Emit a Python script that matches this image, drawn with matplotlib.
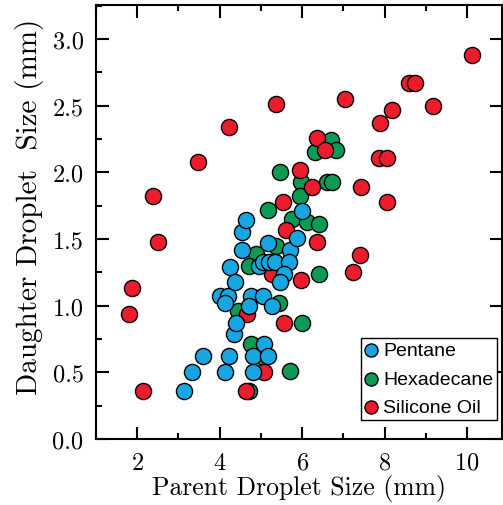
import matplotlib
matplotlib.use("Agg")
import matplotlib.pyplot as plt
from matplotlib.ticker import MultipleLocator, FormatStrFormatter

plt.rcParams['font.family'] = 'serif'
plt.rcParams['font.serif'] = ['cmr10']
plt.rcParams['axes.formatter.use_mathtext'] = True

pentane_x = [3.13, 3.33, 3.59, 4.12, 4.22, 4.80, 4.82, 5.08, 5.18, 4.34, 4.40,
             4.00, 4.19, 4.14, 4.75, 4.72, 5.04, 5.28, 4.24, 4.36, 4.55, 4.55,
             4.65, 5.16, 5.71, 5.88, 4.96, 5.04, 5.20, 5.33, 5.69, 5.57, 5.47, 6.00]
pentane_y = [0.36, 0.50, 0.62, 0.50, 0.62, 0.62, 0.50, 0.71, 0.62, 0.79, 0.87,
             1.07, 1.07, 1.02, 1.07, 1.00, 1.07, 1.00, 1.29, 1.18, 1.42, 1.55,
             1.64, 1.47, 1.42, 1.51, 1.30, 1.33, 1.33, 1.33, 1.33, 1.24, 1.18, 1.71]

hexadecane_x = [6.70, 6.82, 6.31, 5.47, 5.98, 6.60, 6.72, 5.95, 5.18, 5.76, 6.12,
                6.41, 6.41, 4.87, 4.72, 5.37, 5.45, 4.45, 6.00, 4.77, 5.00, 5.71, 4.72]
hexadecane_y = [2.24, 2.17, 2.15, 2.00, 1.93, 1.93, 1.93, 1.82, 1.72, 1.65, 1.63,
                1.61, 1.24, 1.39, 1.30, 1.45, 1.02, 0.96, 0.87, 0.71, 0.62, 0.51, 0.36]

silicone_x = [1.88, 1.81, 2.14, 2.39, 2.51, 3.47, 4.22, 5.37, 5.54, 5.61, 10.12,
              8.60, 8.75, 7.04, 8.19, 9.18, 7.88, 6.36, 6.55, 7.86, 8.07, 5.95,
              6.24, 7.42, 8.05, 6.36, 7.40, 7.23, 5.98, 5.57, 5.28, 4.67, 5.08, 4.65]
silicone_y = [1.13, 0.94, 0.36, 1.82, 1.48, 2.08, 2.34, 2.51, 1.78, 1.57, 2.88,
              2.67, 2.67, 2.55, 2.47, 2.50, 2.37, 2.26, 2.17, 2.11, 2.11, 2.02,
              1.89, 1.89, 1.78, 1.48, 1.38, 1.25, 1.19, 0.87, 1.24, 0.94, 0.50, 0.36]

fig = plt.figure(figsize=(5.03, 5.06), dpi=100)
ax = fig.add_axes([0.191, 0.1304, 0.807, 0.8576])

ms = 135
h_p = ax.scatter(pentane_x, pentane_y, s=ms, c='#16A6E2', edgecolors='black',
                 linewidths=1.0, zorder=5, label='Pentane')
h_h = ax.scatter(hexadecane_x, hexadecane_y, s=ms, c='#0C9A55', edgecolors='black',
                 linewidths=1.0, zorder=3, label='Hexadecane')
h_s = ax.scatter(silicone_x, silicone_y, s=ms, c='#EC1C2C', edgecolors='black',
                 linewidths=1.0, zorder=4, label='Silicone Oil')

ax.set_xlim(1.0, 10.85)
ax.set_ylim(0.0, 3.255)
ax.xaxis.set_major_locator(MultipleLocator(2))
ax.xaxis.set_minor_locator(MultipleLocator(1))
ax.yaxis.set_major_locator(MultipleLocator(0.5))
ax.yaxis.set_minor_locator(MultipleLocator(0.25))
ax.yaxis.set_major_formatter(FormatStrFormatter('%.1f'))

ax.tick_params(which='both', direction='in', top=True, right=True, width=1.5,
               labelsize=17.5, pad=9)
ax.tick_params(which='major', length=9)
ax.tick_params(which='minor', length=4)
ax.tick_params(axis='y', which='minor', right=False)
for sp in ax.spines.values():
    sp.set_linewidth(1.5)

ax.set_xlabel('Parent Droplet Size (mm)', fontsize=18.5)
ax.set_ylabel('Daughter Droplet  Size (mm)', fontsize=21)
ax.xaxis.set_label_coords(0.5, -0.080)
ax.yaxis.set_label_coords(-0.128, 0.537)

leg = ax.legend(handles=[h_p, h_h, h_s], loc='lower right',
                bbox_to_anchor=(0.988, 0.044), frameon=True, fancybox=False,
                edgecolor='black', framealpha=1, borderpad=0.2,
                handletextpad=0.25, handlelength=0.7, labelspacing=0.55,
                borderaxespad=0, markerscale=0.81,
                prop={'family': 'Liberation Sans', 'size': 14})
leg.get_frame().set_linewidth(1.0)

fig.savefig('out.png', dpi=100)
